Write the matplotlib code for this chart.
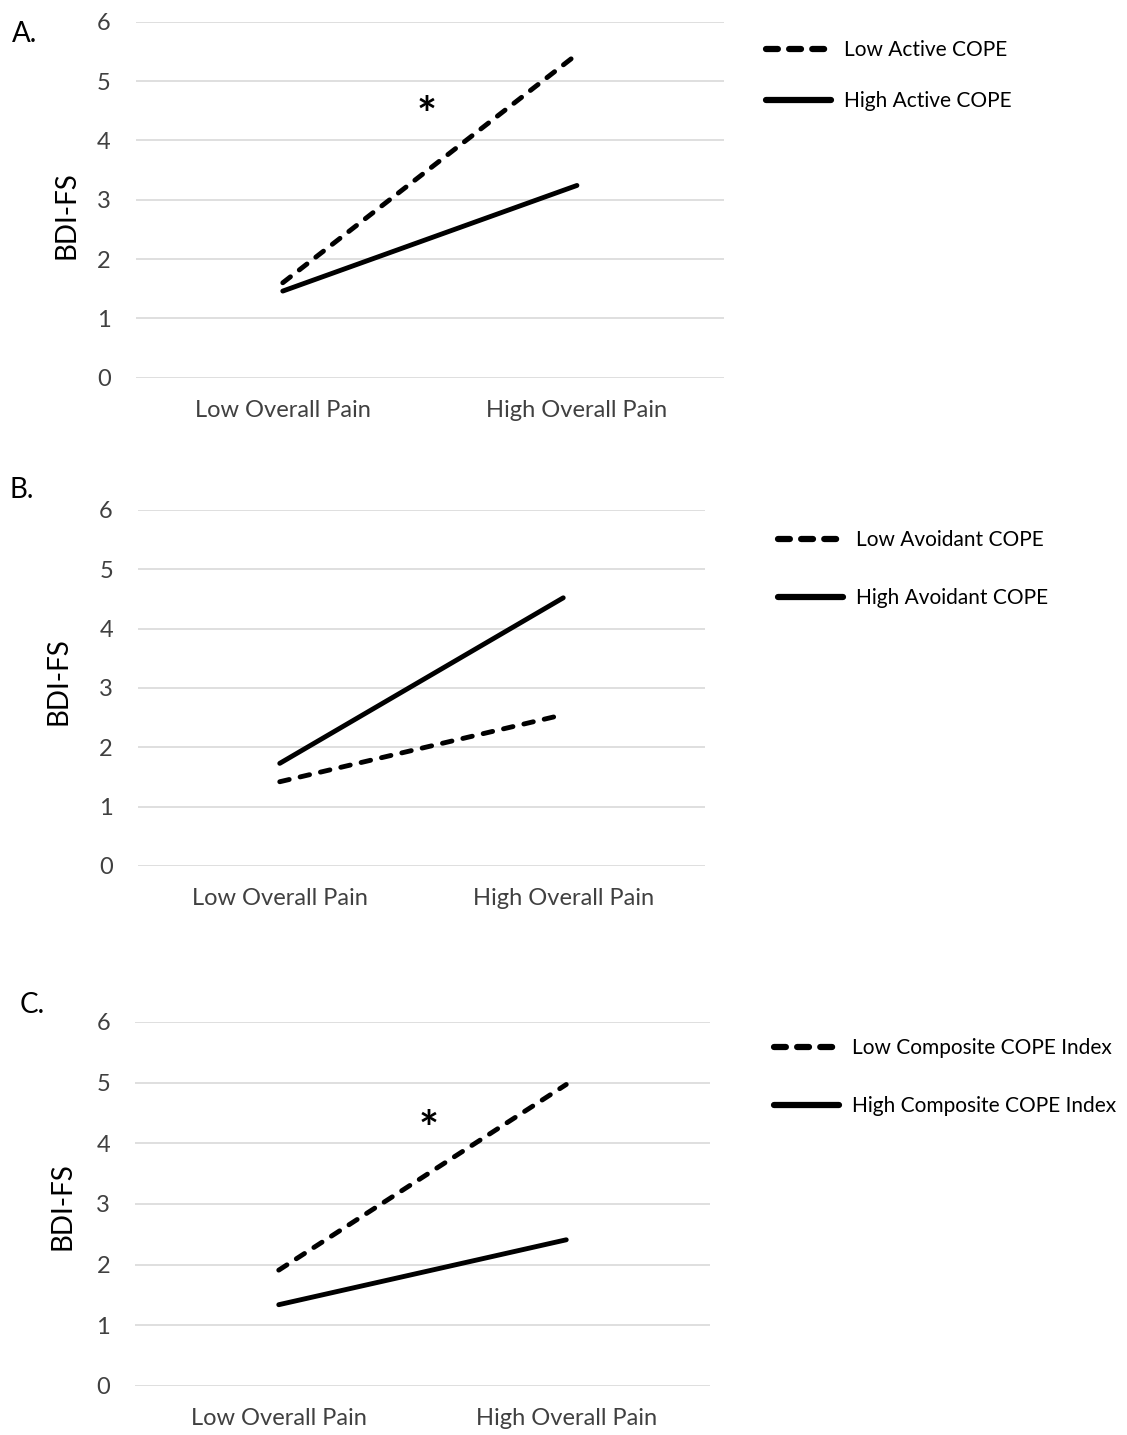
import matplotlib
matplotlib.use('Agg')
import matplotlib.pyplot as plt

# figure size in pixels (saved at dpi 100)
W, H = 1127, 1435

categories = ['Low Overall Pain', 'High Overall Pain']
y_ticks = [0, 1, 2, 3, 4, 5, 6]

# panel A: active coping
low_active = [1.60, 5.45]
high_active = [1.46, 3.24]

# panel B: avoidant coping
low_avoidant = [1.42, 2.55]
high_avoidant = [1.73, 4.52]

# panel C: composite index
low_composite = [1.91, 4.97]
high_composite = [1.34, 2.41]

# where the significance stars go (category position, value)
star_a = (0.49, 4.63)
star_c = (0.52, 4.44)

plt.rcParams['font.family'] = ['Lato', 'DejaVu Sans']

TEXT_GRAY = '#404040'
GRID_GRAY = '#d9d9d9'
LW = 3.5


# turn a pixel box into a figure fraction rect
def px_rect(left, top, right, bottom):
    return [left / W, 1 - bottom / H, (right - left) / W, (bottom - top) / H]


# draws one of the three interaction panels
def make_panel(fig, box, low_vals, high_vals, labels, legend_xy, label_spacing, ylabel_xy, star=None):
    ax = fig.add_axes(px_rect(*box))
    x = list(range(len(categories)))

    ax.plot(x, low_vals, color='black', lw=LW, linestyle=(0, (2.0, 2.3)),
            dash_capstyle='round', solid_capstyle='round', label=labels[0])
    ax.plot(x, high_vals, color='black', lw=LW,
            solid_capstyle='round', label=labels[1])

    ax.set_xlim(-0.5, 1.5)
    ax.set_ylim(0, 6)
    ax.set_xticks(x)
    ax.set_xticklabels(categories)
    ax.set_yticks(y_ticks)

    # excel style: horizontal gridlines only, no spines or tick marks
    ax.grid(axis='y', color=GRID_GRAY, lw=1.2)
    ax.set_axisbelow(True)
    for s in ax.spines.values():
        s.set_visible(False)
    ax.tick_params(axis='both', length=0, labelsize=17, colors=TEXT_GRAY)
    ax.tick_params(axis='y', pad=18)
    ax.tick_params(axis='x', pad=16)

    ax.set_ylabel('BDI-FS', fontsize=20, color='black')
    ax.yaxis.set_label_coords(*ylabel_xy)

    if star is not None:
        ax.annotate('*', star, xytext=(0, -10), textcoords='offset points',
                    fontsize=34, fontweight='bold', ha='center', va='center', color='black')

    # legend sits outside the plot area, to the right
    leg = ax.legend(loc='upper left', bbox_to_anchor=(legend_xy[0] / W, 1 - legend_xy[1] / H),
                    bbox_transform=fig.transFigure, frameon=False, fontsize=15,
                    handlelength=3.1, handletextpad=0.63, labelspacing=label_spacing,
                    borderpad=0, borderaxespad=0)
    # legend keys are drawn a bit heavier than the plot lines
    handles = leg.get_lines()
    handles[0].set_linewidth(4.5)
    handles[0].set_linestyle((0, (1.9, 1.8)))
    handles[1].set_linewidth(4.5)
    return ax


fig = plt.figure(figsize=(W / 100, H / 100), dpi=100)

make_panel(fig, (135.7, 21.7, 724, 377.7), low_active, high_active,
           ['Low Active COPE', 'High Active COPE'], (766, 40), 1.49, (-0.096, 0.457), star_a)
make_panel(fig, (138, 510, 705, 866), low_avoidant, high_avoidant,
           ['Low Avoidant COPE', 'High Avoidant COPE'], (778, 530), 1.82, (-0.118, 0.52))
make_panel(fig, (135, 1022, 710, 1386), low_composite, high_composite,
           ['Low Composite COPE Index', 'High Composite COPE Index'], (774, 1038), 1.82, (-0.103, 0.495), star_c)

# panel letters
fig.text(12 / W, 1 - 42 / H, 'A.', fontsize=20, va='baseline')
fig.text(10 / W, 1 - 498 / H, 'B.', fontsize=20, va='baseline')
fig.text(20 / W, 1 - 1013 / H, 'C.', fontsize=20, va='baseline')

fig.savefig('out.png', dpi=100)
